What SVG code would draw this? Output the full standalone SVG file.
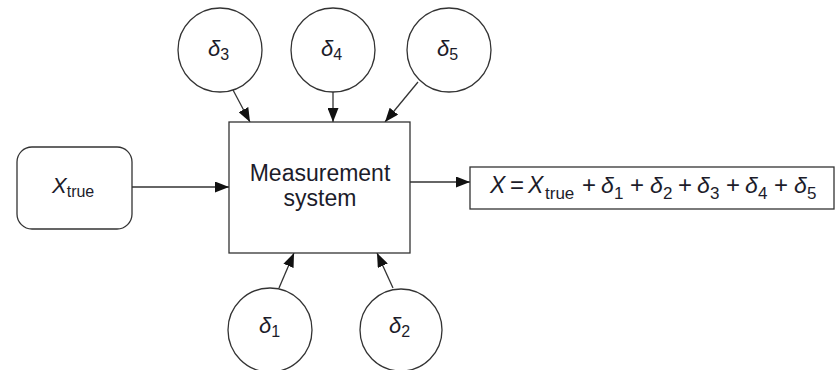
<svg xmlns="http://www.w3.org/2000/svg" width="836" height="370" viewBox="0 0 836 370">
<style>
.shape{fill:#fff;stroke:#333;stroke-width:1.3}
.conn{stroke:#333;stroke-width:1.3;fill:none;marker-end:url(#ah)}
text{font-family:"Liberation Sans",Arial,sans-serif;fill:#1c1c2a}
.lbl{font-size:22px;font-style:italic}
.sub{font-style:normal;font-size:16px}
.f{font-size:24px}
.fi{font-size:23px;font-style:italic}
.fs{font-size:17px}
.pm{font-size:24px;text-anchor:middle}
</style>
<defs>
<marker id="ah" viewBox="0 0 14 11" refX="14" refY="5.5" markerWidth="14" markerHeight="11" markerUnits="userSpaceOnUse" orient="auto">
<path d="M0,0 L14,5.5 L0,11 z" fill="#111"/>
</marker>
</defs>
<g id="connectors">
<path class="conn" d="M132,187 L229,187"/>
<path class="conn" d="M410,182 L470,182"/>
<path class="conn" d="M233,90 L250,122"/>
<path class="conn" d="M333,92 L333,122"/>
<path class="conn" d="M418,82 L385,122"/>
<path class="conn" d="M279,288 L294,253"/>
<path class="conn" d="M393,288 L377,253"/>
</g>
<g id="xtrue">
<rect class="shape" x="17" y="147" width="115" height="82" rx="15"/>
<text class="lbl" x="52" y="193" font-size="24">X<tspan class="sub" dy="4">true</tspan></text>
</g>
<g id="system">
<rect class="shape" x="229" y="122" width="181" height="131"/>
<text x="320" y="181" font-size="23" text-anchor="middle">Measurement</text>
<text x="320" y="206" font-size="23" text-anchor="middle">system</text>
</g>
<g id="d3">
<circle class="shape" cx="220" cy="50" r="42"/>
<text class="lbl" x="208" y="56">δ<tspan class="sub" dy="4">3</tspan></text>
</g>
<g id="d4">
<circle class="shape" cx="333" cy="50" r="42"/>
<text class="lbl" x="321" y="56">δ<tspan class="sub" dy="4">4</tspan></text>
</g>
<g id="d5">
<circle class="shape" cx="449" cy="50" r="42"/>
<text class="lbl" x="437" y="56">δ<tspan class="sub" dy="4">5</tspan></text>
</g>
<g id="d1">
<circle class="shape" cx="270" cy="330" r="42"/>
<text class="lbl" x="259" y="333">δ<tspan class="sub" dy="4">1</tspan></text>
</g>
<g id="d2">
<circle class="shape" cx="401" cy="330" r="41"/>
<text class="lbl" x="389" y="333">δ<tspan class="sub" dy="4">2</tspan></text>
</g>
<g id="result">
<rect class="shape" x="470" y="167" width="364" height="42"/>
<text class="fi" x="490" y="193">X</text>
<text class="pm" x="517" y="193">=</text>
<text class="fi" x="528" y="193">X</text>
<text class="fs" x="545" y="199">true</text>
<text class="pm" x="589" y="193">+</text>
<text class="fi" x="601" y="193">δ</text>
<text class="fs" x="614" y="199">1</text>
<text class="pm" x="637" y="193">+</text>
<text class="fi" x="650" y="193">δ</text>
<text class="fs" x="663" y="199">2</text>
<text class="pm" x="685" y="193">+</text>
<text class="fi" x="697" y="193">δ</text>
<text class="fs" x="710" y="199">3</text>
<text class="pm" x="733" y="193">+</text>
<text class="fi" x="745" y="193">δ</text>
<text class="fs" x="758" y="199">4</text>
<text class="pm" x="781" y="193">+</text>
<text class="fi" x="794" y="193">δ</text>
<text class="fs" x="807" y="199">5</text>
</g>
</svg>
